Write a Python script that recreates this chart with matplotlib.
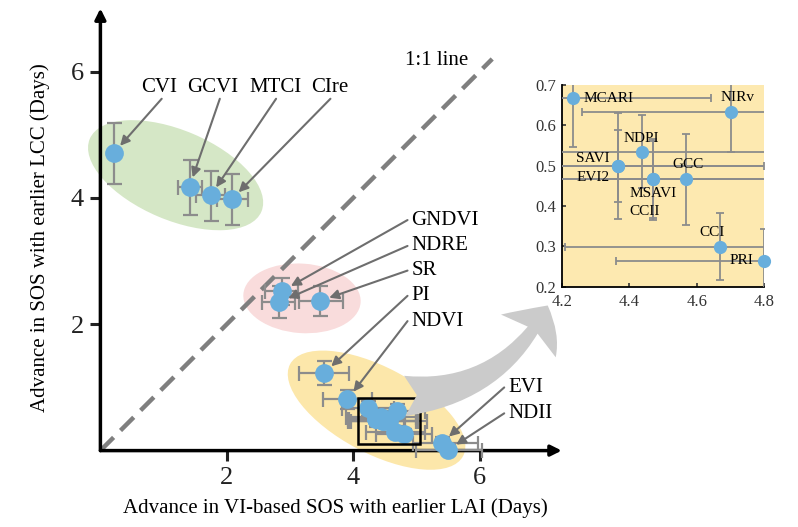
import matplotlib
matplotlib.use("Agg")
import matplotlib.pyplot as plt
from matplotlib.patches import Ellipse, Rectangle, FancyArrowPatch

plt.rcParams["font.family"] = ["Liberation Serif", "DejaVu Serif"]

# main points: advance in VI-based SOS (x) vs advance in SOS with earlier LCC (y)
main_vi = ["CVI", "GCVI", "MTCI", "CIre", "GNDVI", "NDRE", "SR", "PI", "NDVI", "EVI", "NDII"]
main_x = [0.21, 1.41, 1.745, 2.08, 2.88, 2.83, 3.475, 3.54, 3.91, 5.40, 5.50]
main_y = [4.71, 4.18, 4.04, 3.98, 2.53, 2.35, 2.37, 1.23, 0.81, 0.12, 0.01]
main_xlo = [0.0, 0.18, 0.23, 0.24, 0.28, 0.28, 0.33, 0.39, 0.39, 0.45, 0.50]
main_xhi = [0.0, 0.19, 0.23, 0.26, 0.24, 0.25, 0.37, 0.40, 0.39, 0.58, 0.54]
main_ylo = [0.49, 0.45, 0.40, 0.41, 0.22, 0.25, 0.24, 0.19, 0.15, 0.10, 0.08]
main_yhi = [0.47, 0.42, 0.39, 0.40, 0.20, 0.25, 0.24, 0.19, 0.15, 0.10, 0.08]

# zoomed cluster
zoom_vi = ["MCARI", "NIRv", "NDPI", "SAVI", "EVI2", "MSAVI", "CCII", "GCC", "CCI", "PRI"]
zoom_x = [4.232, 4.700, 4.437, 4.368, 4.368, 4.469, 4.469, 4.568, 4.669, 4.800]
zoom_y = [0.667, 0.634, 0.535, 0.499, 0.499, 0.466, 0.466, 0.466, 0.299, 0.264]
zoom_xerr = [0.41, 0.44, 0.55, 0.43, 0.45, 0.55, 0.52, 0.60, 0.46, 0.44]
zoom_yerr = [0.12, 0.10, 0.09, 0.132, 0.09, 0.096, 0.10, 0.113, 0.083, 0.08]

dot_c = "#68AEDC"
bar_c = "#8C8C8C"
arr_c = "#6E6E6E"

fig = plt.figure(figsize=(7.98, 5.27), dpi=100)
ax = fig.add_axes([100.4 / 798, 76.4 / 527, 455 / 798, 439 / 527])
ax.set_xlim(0, 7.2)
ax.set_ylim(0, 6.95)
for s in ax.spines.values():
    s.set_visible(False)
ax.set_xticks([2, 4, 6])
ax.set_yticks([2, 4, 6])
ax.tick_params(direction="out", length=7, width=2.2, labelsize=19, pad=5, colors="#222222")

# group ellipses
ax.add_patch(Ellipse((1.19, 4.36), 2.95, 1.42, angle=-23, fc="#D5E7C6", ec="none", zorder=1, clip_on=False))
ax.add_patch(Ellipse((3.19, 2.41), 1.86, 1.10, angle=-4, fc="#F9DCDC", ec="none", zorder=1, clip_on=False))
ax.add_patch(Ellipse((4.37, 0.64), 3.10, 1.36, angle=-28, fc="#FCE7AA", ec="none", zorder=1, clip_on=False))

# axes with arrows
ax.annotate("", xy=(7.3, 0), xytext=(0, 0),
            arrowprops=dict(arrowstyle="-|>", lw=2.5, color="k", mutation_scale=16, shrinkA=0, shrinkB=0),
            annotation_clip=False, zorder=2.5)
ax.annotate("", xy=(0, 7.0), xytext=(0, 0),
            arrowprops=dict(arrowstyle="-|>", lw=2.5, color="k", mutation_scale=16, shrinkA=0, shrinkB=0),
            annotation_clip=False, zorder=2.5)

# 1:1 line
ax.plot([0, 6.2], [0, 6.2], color="#7F7F7F", lw=3.2, dashes=(4.2, 2.2), zorder=2)
ax.text(4.82, 6.18, "1:1 line", fontsize=15, va="center", ha="left")

all_x = main_x + zoom_x
all_y = main_y + zoom_y
all_xerr = [main_xlo + zoom_xerr, main_xhi + zoom_xerr]
all_yerr = [main_ylo + zoom_yerr, main_yhi + zoom_yerr]
ax.errorbar(all_x, all_y, xerr=all_xerr, yerr=all_yerr, fmt="none", ecolor=bar_c,
            elinewidth=1.6, capsize=5.4, capthick=1.6, zorder=3, clip_on=False)
ax.plot(all_x, all_y, "o", color=dot_c, ms=13.5, mec="none", zorder=4, clip_on=False)

ax.add_patch(Rectangle((4.08, 0.10), 0.98, 0.74, fill=False, ec="k", lw=1.8, zorder=5))

# labels with arrows
arrow_kw = dict(arrowstyle="-|>", color=arr_c, lw=1.5, mutation_scale=14, shrinkA=0, shrinkB=7)

top_tx = [0.93, 1.77, 2.77, 3.63]
top_sx = [0.97, 1.89, 2.78, 3.64]
for i in range(4):
    ax.text(top_tx[i], 5.75, main_vi[i], fontsize=15, ha="center", va="center")
    ax.annotate("", xy=(main_x[i], main_y[i]), xytext=(top_sx[i], 5.57), arrowprops=arrow_kw, zorder=6)

mid_ty = [3.65, 3.24, 2.85, 2.45, 2.05]
for k, i in enumerate(range(4, 9)):
    ax.text(4.92, mid_ty[k], main_vi[i], fontsize=15, ha="left", va="center")
    ax.annotate("", xy=(main_x[i], main_y[i]), xytext=(4.86, mid_ty[k]), arrowprops=arrow_kw, zorder=6)

low_ty = [1.0, 0.59]
for k, i in enumerate(range(9, 11)):
    ax.text(6.45, low_ty[k], main_vi[i], fontsize=15, ha="left", va="center")
    ax.annotate("", xy=(main_x[i], main_y[i]), xytext=(6.39, low_ty[k]), arrowprops=arrow_kw, zorder=6)

fig.text(335 / 798, 1 - 508 / 527, "Advance in VI-based SOS with earlier LAI (Days)",
         fontsize=15, ha="center", va="center")
fig.text(40 / 798, 1 - 238 / 527, "Advance in SOS with earlier LCC (Days)",
         fontsize=15, ha="center", va="center", rotation=90)

# big gray arrow to the inset
fig.patches.append(FancyArrowPatch((402 / 798, 1 - 396 / 527), (549 / 798, 1 - 303 / 527),
                                   transform=fig.transFigure, connectionstyle="arc3,rad=0.3",
                                   arrowstyle="fancy,head_width=2.5,head_length=1.3,tail_width=1.45",
                                   mutation_scale=20, fc="#CBCBCB", ec="none", zorder=0))

# inset
axi = fig.add_axes([561.7 / 798, 240.3 / 527, 202.6 / 798, 201.7 / 527])
axi.set_facecolor("#FDE9B0")
axi.set_xlim(4.2, 4.8)
axi.set_ylim(0.2, 0.7)
axi.spines["top"].set_visible(False)
axi.spines["right"].set_visible(False)
axi.spines["left"].set_linewidth(1.3)
axi.spines["bottom"].set_linewidth(1.3)
axi.set_xticks([4.2, 4.4, 4.6, 4.8])
axi.set_yticks([0.2, 0.3, 0.4, 0.5, 0.6, 0.7])
axi.tick_params(direction="in", length=3, width=1.2, labelsize=12, colors="#333333")
axi.tick_params(axis="x", pad=5)
axi.tick_params(axis="y", pad=4)
axi.errorbar(zoom_x, zoom_y, xerr=zoom_xerr, yerr=zoom_yerr, fmt="none", ecolor=bar_c,
             elinewidth=1.3, capsize=3, capthick=1.3, zorder=3)
axi.plot(zoom_x, zoom_y, "o", color=dot_c, ms=9.5, mec="none", zorder=4, clip_on=False)

zoom_lx = [4.264, 4.72, 4.435, 4.343, 4.341, 4.40, 4.40, 4.575, 4.645, 4.767]
zoom_ly = [0.667, 0.669, 0.567, 0.518, 0.471, 0.430, 0.386, 0.502, 0.335, 0.264]
zoom_ha = ["left", "center", "center", "right", "right", "left", "left", "center", "center", "right"]
for i in range(len(zoom_vi)):
    axi.text(zoom_lx[i], zoom_ly[i], zoom_vi[i], fontsize=11, ha=zoom_ha[i], va="center", zorder=5)

fig.savefig("out.png", dpi=100)
